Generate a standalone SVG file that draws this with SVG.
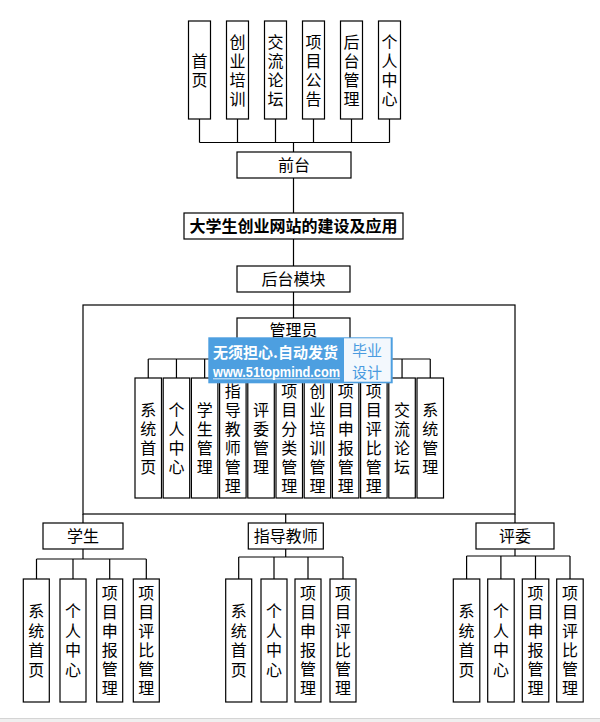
<svg xmlns="http://www.w3.org/2000/svg" width="600" height="722" viewBox="0 0 600 722">
<style>
.box{fill:#fff;stroke:#000;stroke-width:1.2}
.ln{fill:none;stroke:#000;stroke-width:1.2}
.t{font-family:"Noto Sans CJK SC","Noto Sans",sans-serif;font-size:16px;text-anchor:middle;fill:#000}
.v{writing-mode:vertical-rl;letter-spacing:3px}
.v4{writing-mode:vertical-rl;letter-spacing:3.5px}
.tb{font-weight:bold}
.wm1{font-family:"Noto Sans CJK SC","Noto Sans",sans-serif;font-weight:bold;fill:#fff}
.wm3{font-family:"Liberation Sans","Noto Sans",sans-serif;font-weight:bold;fill:#fff}
.wm2{font-family:"Noto Sans CJK SC","Noto Sans",sans-serif;font-size:15px;text-anchor:middle;fill:#4a9be0}
</style>
<rect x="0" y="0" width="600" height="722" fill="#fff"/>
<rect x="0" y="718" width="600" height="4" fill="#efefef"/>
<line x1="0" y1="718.5" x2="600" y2="718.5" stroke="#d4d4d4" stroke-width="1"/>

<g id="connectors">
<path class="ln" d="M199.5 119V142.5M237.5 119V142.5M275.5 119V142.5M313.5 119V142.5M351.5 119V142.5M389.5 119V142.5M199.5 142.5H389.5M293.5 142.5V152"/>
<path class="ln" d="M293.5 178V213M293.5 239V266M293.5 292V318M293.5 344V359"/>
<rect class="ln" x="83" y="305" width="432" height="209"/>
<path class="ln" d="M148.25 359H430.25"/>
<path class="ln" d="M148.25 359V378M176.45 359V378M204.65 359V378M232.85 359V378M261.05 359V378M289.25 359V378M317.45 359V378M345.65 359V378M373.85 359V378M402.05 359V378M430.25 359V378"/>
<path class="ln" d="M83 514V523M285.7 514V523M515 514V523"/>
<path class="ln" d="M83 549V559M36.5 559H146.3M36.5 559V579M73 559V579M109.7 559V579M146.3 559V579"/>
<path class="ln" d="M285.7 549V557M238.7 557H343M238.7 557V579M274 557V579M308 557V579M343 557V579"/>
<path class="ln" d="M515 549V556M466.6 556H570M466.6 556V579M500.9 556V579M535.5 556V579M570 556V579"/>
</g>

<g id="n-shouye"><rect class="box" x="188.5" y="21" width="22" height="98"/><text class="t v" x="199.5" y="71.5">首页</text></g>
<g id="n-chuangye"><rect class="box" x="226.5" y="21" width="22" height="98"/><text class="t v" x="237.5" y="71.5">创业培训</text></g>
<g id="n-jiaoliu"><rect class="box" x="264.5" y="21" width="22" height="98"/><text class="t v" x="275.5" y="71.5">交流论坛</text></g>
<g id="n-gonggao"><rect class="box" x="302.5" y="21" width="22" height="98"/><text class="t v" x="313.5" y="71.5">项目公告</text></g>
<g id="n-houtaiguanli"><rect class="box" x="340.5" y="21" width="22" height="98"/><text class="t v" x="351.5" y="71.5">后台管理</text></g>
<g id="n-gerenzhongxin"><rect class="box" x="378.5" y="21" width="22" height="98"/><text class="t v" x="389.5" y="71.5">个人中心</text></g>

<g id="n-qiantai"><rect class="box" x="237" y="152" width="114" height="26"/><text class="t" x="294" y="171">前台</text></g>
<g id="n-title"><rect class="box" x="184" y="213" width="219" height="26"/><text class="t tb" x="293.5" y="232">大学生创业网站的建设及应用</text></g>
<g id="n-houtai"><rect class="box" x="237" y="266" width="113" height="26"/><text class="t" x="293.5" y="285">后台模块</text></g>
<g id="n-admin"><rect class="box" x="237" y="318" width="113" height="26"/><text class="t" x="293.5" y="336">管理员</text></g>

<g id="a1"><rect class="box" x="135" y="378" width="26.5" height="120"/><text class="t v" x="148.25" y="439.5">系统首页</text></g>
<g id="a2"><rect class="box" x="163.2" y="378" width="26.5" height="120"/><text class="t v" x="176.45" y="439.5">个人中心</text></g>
<g id="a3"><rect class="box" x="191.4" y="378" width="26.5" height="120"/><text class="t v" x="204.65" y="439.5">学生管理</text></g>
<g id="a4"><rect class="box" x="219.6" y="378" width="26.5" height="120"/><text class="t v" x="232.85" y="439.5">指导教师管理</text></g>
<g id="a5"><rect class="box" x="247.8" y="378" width="26.5" height="120"/><text class="t v" x="261.05" y="439.5">评委管理</text></g>
<g id="a6"><rect class="box" x="276" y="378" width="26.5" height="120"/><text class="t v" x="289.25" y="439.5">项目分类管理</text></g>
<g id="a7"><rect class="box" x="304.2" y="378" width="26.5" height="120"/><text class="t v" x="317.45" y="439.5">创业培训管理</text></g>
<g id="a8"><rect class="box" x="332.4" y="378" width="26.5" height="120"/><text class="t v" x="345.65" y="439.5">项目申报管理</text></g>
<g id="a9"><rect class="box" x="360.6" y="378" width="26.5" height="120"/><text class="t v" x="373.85" y="439.5">项目评比管理</text></g>
<g id="a10"><rect class="box" x="388.8" y="378" width="26.5" height="120"/><text class="t v" x="402.05" y="439.5">交流论坛</text></g>
<g id="a11"><rect class="box" x="417" y="378" width="26.5" height="120"/><text class="t v" x="430.25" y="439.5">系统管理</text></g>

<g id="n-student"><rect class="box" x="43" y="523" width="80" height="26"/><text class="t" x="83" y="542">学生</text></g>
<g id="s1"><rect class="box" x="23.3" y="579" width="26" height="123"/><text class="t v4" x="36.3" y="642.25">系统首页</text></g>
<g id="s2"><rect class="box" x="60" y="579" width="26" height="123"/><text class="t v4" x="73" y="642.25">个人中心</text></g>
<g id="s3"><rect class="box" x="96.7" y="579" width="26" height="123"/><text class="t v" x="109.7" y="642">项目申报管理</text></g>
<g id="s4"><rect class="box" x="133.3" y="579" width="26" height="123"/><text class="t v" x="146.3" y="642">项目评比管理</text></g>

<g id="n-teacher"><rect class="box" x="248.3" y="523" width="75" height="26"/><text class="t" x="285.8" y="542">指导教师</text></g>
<g id="t1"><rect class="box" x="225.7" y="579" width="26" height="123"/><text class="t v4" x="238.7" y="642.25">系统首页</text></g>
<g id="t2"><rect class="box" x="261" y="579" width="26" height="123"/><text class="t v4" x="274" y="642.25">个人中心</text></g>
<g id="t3"><rect class="box" x="295" y="579" width="26" height="123"/><text class="t v" x="308" y="642">项目申报管理</text></g>
<g id="t4"><rect class="box" x="330" y="579" width="26" height="123"/><text class="t v" x="343" y="642">项目评比管理</text></g>

<g id="n-judge"><rect class="box" x="476" y="523" width="78" height="26"/><text class="t" x="515" y="542">评委</text></g>
<g id="j1"><rect class="box" x="453.3" y="579" width="26.5" height="123"/><text class="t v4" x="466.6" y="642.25">系统首页</text></g>
<g id="j2"><rect class="box" x="487.7" y="579" width="26.5" height="123"/><text class="t v4" x="500.9" y="642.25">个人中心</text></g>
<g id="j3"><rect class="box" x="522.3" y="579" width="26.5" height="123"/><text class="t v" x="535.5" y="642">项目申报管理</text></g>
<g id="j4"><rect class="box" x="556.7" y="579" width="26.5" height="123"/><text class="t v" x="570" y="642">项目评比管理</text></g>

<g id="watermark">
<rect x="208.3" y="337.3" width="184.4" height="46" fill="#4d9fe0"/>
<rect x="344" y="338.3" width="46.7" height="43.4" fill="#f3f8fd"/>
<text class="wm1" x="213" y="358" font-size="15" textLength="125" lengthAdjust="spacingAndGlyphs">无须担心.自动发货</text>
<text class="wm3" x="213" y="376.5" font-size="14" textLength="127" lengthAdjust="spacingAndGlyphs">www.51topmind.com</text>
<line x1="213" y1="378.8" x2="340" y2="378.8" stroke="#fff" stroke-width="0.8"/>
<text class="wm2" x="367" y="355.5">毕业</text>
<text class="wm2" x="367" y="377.5">设计</text>
</g>
</svg>
